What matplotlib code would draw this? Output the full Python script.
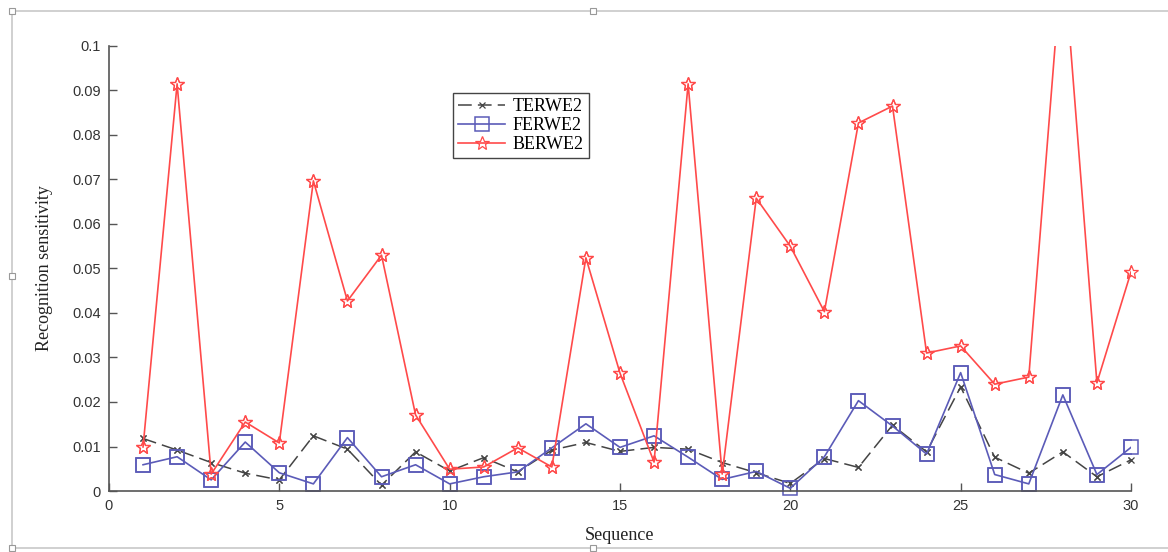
import numpy as np
import matplotlib.pyplot as plt
from matplotlib.lines import Line2D

# Values
seq = np.arange(1, 31)
terwe2 = [0.0118, 0.0092, 0.0064, 0.0040, 0.0025, 0.0124, 0.0094, 0.0013, 0.0088, 0.0045,
          0.0075, 0.0043, 0.0092, 0.0109, 0.0089, 0.0098, 0.0094, 0.0064, 0.0041, 0.0017,
          0.0073, 0.0053, 0.0148, 0.0088, 0.0234, 0.0076, 0.0040, 0.0088, 0.0032, 0.0070]
ferwe2 = [0.0059, 0.0077, 0.0025, 0.0110, 0.0041, 0.0016, 0.0120, 0.0032, 0.0059, 0.0016,
          0.0032, 0.0043, 0.0097, 0.0151, 0.0098, 0.0124, 0.0076, 0.0026, 0.0044, 0.0006,
          0.0077, 0.0203, 0.0146, 0.0083, 0.0266, 0.0037, 0.0016, 0.0216, 0.0037, 0.0098]
berwe2 = [0.0099, 0.0915, 0.0038, 0.0155, 0.0108, 0.0697, 0.0427, 0.0530, 0.0171, 0.0049,
          0.0054, 0.0097, 0.0054, 0.0524, 0.0265, 0.0065, 0.0915, 0.0038, 0.0658, 0.0550,
          0.0403, 0.0827, 0.0865, 0.0310, 0.0326, 0.0240, 0.0256, 0.1220, 0.0243, 0.0492]
x_ticks = [0, 5, 10, 15, 20, 25, 30]
y_ticks = [0, 0.01, 0.02, 0.03, 0.04, 0.05, 0.06, 0.07, 0.08, 0.09, 0.1]
y_tick_labels = ["0", "0.01", "0.02", "0.03", "0.04", "0.05", "0.06", "0.07", "0.08", "0.09", "0.1"]

SERIF = ["Liberation Serif", "DejaVu Serif"]
SANS = ["Liberation Sans", "DejaVu Sans"]
AXCOL = "#555555"
YMAX = 0.1

fig = plt.figure(figsize=(11.68, 5.52), dpi=100)
ax = fig.add_axes([0.0933, 0.1105, 0.875, 0.8062])

styles = [
    (terwe2, "TERWE2", dict(color="#444444", lw=1.1, dashes=(9, 4), marker="x", ms=5, mew=0.9)),
    (ferwe2, "FERWE2", dict(color="#5b5bb8", lw=1.2, marker="s", ms=10, mfc="none", mew=1.1)),
    (berwe2, "BERWE2", dict(color="#ff4a4a", lw=1.2, marker="*", ms=10, mfc="none", mew=0.9)),
]
for vals, name, st in styles:
    ax.plot(seq, vals, label=name, **st)
    # markers at the axis edge are not clipped (MATLAB style); values above the
    # axis top stay hidden
    v = np.array(vals)
    shown = np.where(v <= YMAX, v, np.nan)
    mst = {k: st[k] for k in ("color", "marker", "ms", "mew") if k in st}
    if "mfc" in st:
        mst["mfc"] = st["mfc"]
    ax.plot(seq, shown, ls="none", clip_on=False, **mst)

ax.set_xlim(0, 30)
ax.set_ylim(0, YMAX)
ax.set_xticks(x_ticks)
ax.set_yticks(y_ticks)
ax.set_yticklabels(y_tick_labels)
for lab in ax.get_xticklabels() + ax.get_yticklabels():
    lab.set_family(SANS)
    lab.set_fontsize(10.5)
    lab.set_color("#333333")

ax.spines["top"].set_visible(False)
ax.spines["right"].set_visible(False)
for s in ("left", "bottom"):
    ax.spines[s].set_color(AXCOL)
    ax.spines[s].set_linewidth(1.2)
ax.tick_params(direction="in", length=6, width=1.0, color=AXCOL, pad=6)

ax.set_xlabel("Sequence", family=SERIF, fontsize=13, color="#222222", labelpad=10)
ax.set_ylabel("Recognition sensitivity", family=SERIF, fontsize=13, color="#222222", labelpad=14)

leg = ax.legend(loc="upper left", bbox_to_anchor=(453 / 1168, 1 - 93 / 552),
                bbox_transform=fig.transFigure, prop={"family": SERIF, "size": 13},
                fancybox=False, framealpha=1, edgecolor="#444444", borderpad=0.3,
                borderaxespad=0, labelspacing=0.1, handlelength=2.6, handletextpad=0.4)
leg.get_frame().set_linewidth(1.0)

# picture frame around the embedded image
frame_col = "#c8c8c8"
fx0, fx1 = 12 / 1168, 1.0
fy0, fy1 = 1 - 548 / 552, 1 - 11 / 552
fig.add_artist(Line2D([fx0, fx1], [fy1, fy1], color=frame_col, lw=1.2, transform=fig.transFigure))
fig.add_artist(Line2D([fx0, fx1], [fy0, fy0], color=frame_col, lw=1.2, transform=fig.transFigure))
fig.add_artist(Line2D([fx0, fx0], [fy0, fy1], color=frame_col, lw=1.2, transform=fig.transFigure))
for hx, hy in [(fx0, fy1), (fx0, fy0), (fx0, 0.5), (593 / 1168, fy1), (593 / 1168, fy0)]:
    fig.add_artist(Line2D([hx], [hy], marker="s", ms=5, mfc="white", mec="#999999",
                          mew=0.8, transform=fig.transFigure))

fig.savefig("out.png", dpi=100)
plt.close(fig)
